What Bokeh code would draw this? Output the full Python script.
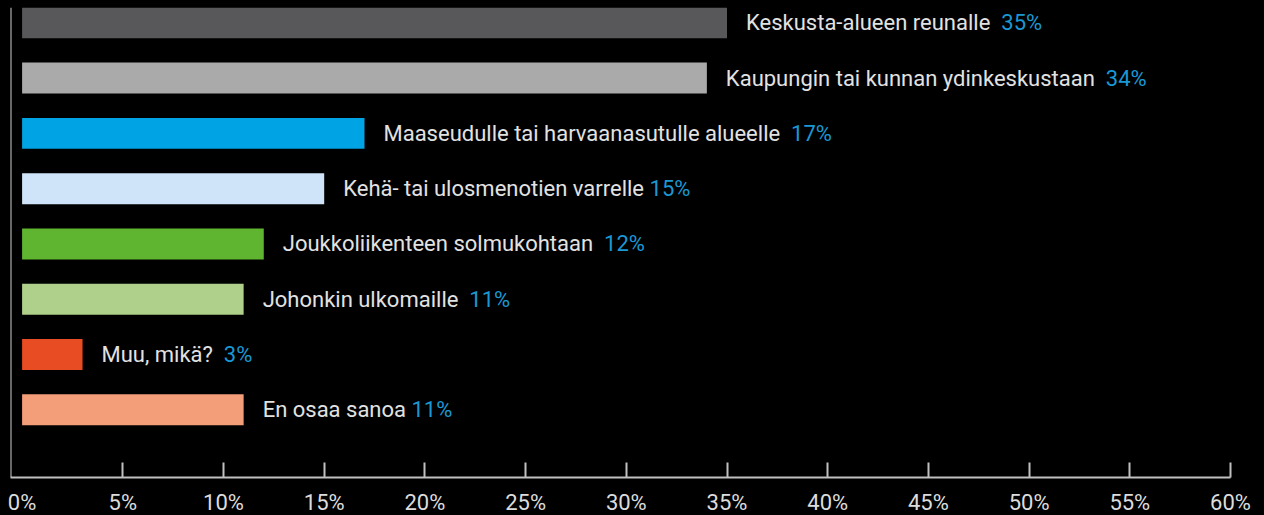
import glob
from bokeh.plotting import figure
from bokeh.models import ColumnDataSource, Span, FixedTicker, CustomJSTickFormatter
from bokeh.core.properties import value
from bokeh.embed import file_html
from bokeh.resources import INLINE

# ---- data ----
categories = [
    "Keskusta-alueen reunalle",
    "Kaupungin tai kunnan ydinkeskustaan",
    "Maaseudulle tai harvaanasutulle alueelle",
    "Kehä- tai ulosmenotien varrelle",
    "Joukkoliikenteen solmukohtaan",
    "Johonkin ulkomaille",
    "Muu, mikä?",
    "En osaa sanoa",
]
values = [35, 34, 17, 15, 12, 11, 3, 11]
separators = ["  ", "  ", "  ", " ", "  ", "  ", "  ", " "]
colors = ["#58585a", "#aaaaaa", "#00a3e4", "#cfe4f8",
          "#5fb52f", "#aed08a", "#e84c22", "#f49d79"]
tick_values = [0, 5, 10, 15, 20, 25, 30, 35, 40, 45, 50, 55, 60]

FONT = "Roboto"
FONT_PX = 22

# ---- text measurement for placing the blue percentages ----
def find_font():
    pats = ["/usr/share/fonts/**/Roboto-Regular.ttf",
            "/usr/share/fonts/**/Roboto*Regular*.ttf",
            "/usr/local/share/fonts/**/Roboto-Regular.ttf"]
    for pat in pats:
        hits = sorted(glob.glob(pat, recursive=True))
        if hits:
            return hits[0]
    return None

def measurer():
    try:
        from PIL import ImageFont
        path = find_font()
        if path:
            f = ImageFont.truetype(path, FONT_PX)
            return lambda s: f.getlength(s)
    except Exception:
        pass
    return lambda s: len(s) * FONT_PX * 0.5

measure = measurer()

n = len(categories)
ypos = list(range(n - 1, -1, -1))
label_gap = 19
pct_offsets = [label_gap + measure(c + s) for c, s in zip(categories, separators)]

src = ColumnDataSource(dict(
    y=ypos, v=values, cat=categories, color=colors,
    pct=[f"{v}%" for v in values], pct_off=pct_offsets,
))

p = figure(frame_width=1220, frame_height=470,
           x_range=(-0.576, 60), y_range=(-1.224, 7.277),
           output_backend="svg", toolbar_location=None,
           background_fill_color="black", border_fill_color="black",
           min_border_left=10, min_border_top=7, min_border_right=30,
           min_border_bottom=0)
p.outline_line_color = None
p.grid.visible = False
p.yaxis.visible = False

p.hbar(y="y", left=0, right="v", height=0.56, fill_color="color",
       line_color=None, source=src)

p.text(x="v", y="y", text="cat", x_offset=label_gap, source=src,
       text_font=value(FONT), text_font_size=f"{FONT_PX}px",
       text_color="#e2e2e2", text_baseline="middle", text_align="left")
p.text(x="v", y="y", text="pct", x_offset="pct_off", source=src,
       text_font=value(FONT), text_font_size=f"{FONT_PX}px",
       text_color="#1a98d5", text_baseline="middle", text_align="left")

# left vertical line at the frame edge
p.add_layout(Span(location=p.x_range.start, dimension="height",
                  line_color="#d0d0d0", line_width=2))

ax = p.xaxis[0]
# labels on every tick; tick marks (drawn as minor ticks) everywhere except at 0
ax.ticker = FixedTicker(ticks=tick_values, minor_ticks=tick_values[1:])
ax.formatter = CustomJSTickFormatter(code="return tick + '%';")
ax.axis_line_color = "#c0c0c0"
ax.axis_line_width = 2
ax.major_tick_line_color = None
ax.minor_tick_line_color = "#c0c0c0"
ax.minor_tick_line_width = 2
ax.minor_tick_in = 15
ax.minor_tick_out = 0
ax.major_tick_in = 0
ax.major_tick_out = 0
ax.major_label_text_font = FONT
ax.major_label_text_font_size = f"{FONT_PX}px"
ax.major_label_text_color = "#dcdcdc"
ax.major_label_standoff = 12

html = file_html(p, INLINE)
html = html.replace("<head>", "<head><style>html,body{background:#000;}</style>", 1)
open("out.html", "w").write(html)
